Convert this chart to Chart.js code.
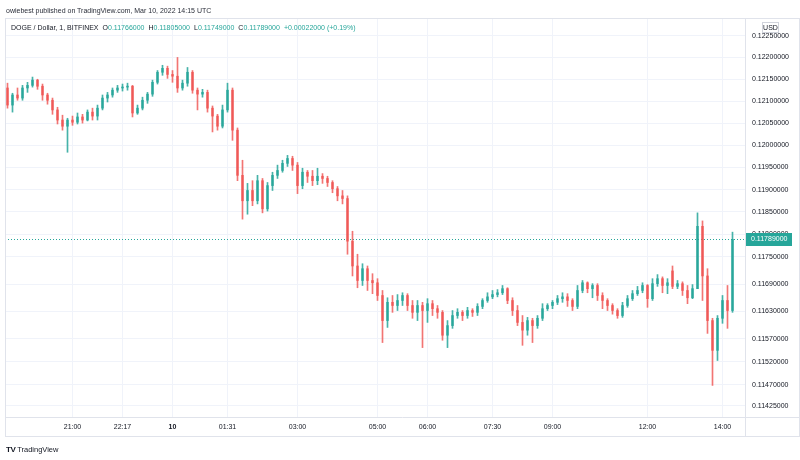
<!DOCTYPE html>
<html>
<head>
<meta charset="utf-8">
<script src="https://cdn.jsdelivr.net/npm/chart.js@4.4.1/dist/chart.umd.min.js"></script>
<style>
html, body { margin: 0; padding: 0; background: #fff; }
#wrap { position: relative; width: 800px; height: 460px; overflow: hidden; }
#c { position: absolute; left: 0; top: 0; }
.t { position: absolute; white-space: nowrap; font-family: "Liberation Sans", Arial, sans-serif; font-size: 7px; line-height: 9px; color: #131722; }
.g { color: #26a69a; }
.it { margin-left: 4px; }
</style>
</head>
<body>
<div id="wrap">
  <canvas id="c" width="800" height="460"></canvas>
  <div class="t" style="left:6px;top:6px;color:#2a2e39;">owiebest published on TradingView.com, Mar 10, 2022 14:15 UTC</div>
  <div class="t" id="legend" style="left:11px;top:23px;"></div>
  <div class="t" style="left:6px;top:445px;font-size:7.5px;"><b style="font-size:8px;letter-spacing:-0.5px;">TV</b> TradingView</div>
</div>
<script>
// candles, 1 bar per ~5px of the original
var opens = [
  0.12130, 0.12091, 0.12114, 0.12107, 0.12130, 0.12136, 0.12148, 0.12134, 0.12114, 0.12102,
  0.12080, 0.12057, 0.12043, 0.12057, 0.12052, 0.12064, 0.12057, 0.12075, 0.12066, 0.12084,
  0.12107, 0.12114, 0.12125, 0.12130, 0.12132, 0.12134, 0.12073, 0.12084, 0.12102, 0.12116,
  0.12143, 0.12166, 0.12175, 0.12161, 0.12157, 0.12130, 0.12141, 0.12166, 0.12125, 0.12116,
  0.12120, 0.12084, 0.12066, 0.12043, 0.12080, 0.12125, 0.12034, 0.11932, 0.11875, 0.11898,
  0.11875, 0.11920, 0.11857, 0.11909, 0.11932, 0.11943, 0.11959, 0.11970, 0.11955, 0.11909,
  0.11939, 0.11930, 0.11920, 0.11930, 0.11925, 0.11916, 0.11902, 0.11886, 0.11880, 0.11785,
  0.11730, 0.11698, 0.11724, 0.11698, 0.11693, 0.11665, 0.11610, 0.11650, 0.11643, 0.11654,
  0.11665, 0.11643, 0.11628, 0.11643, 0.11632, 0.11647, 0.11636, 0.11628, 0.11578, 0.11599,
  0.11621, 0.11628, 0.11621, 0.11632, 0.11628, 0.11641, 0.11654, 0.11662, 0.11667, 0.11671,
  0.11680, 0.11654, 0.11632, 0.11606, 0.11589, 0.11610, 0.11599, 0.11615, 0.11636, 0.11643,
  0.11650, 0.11658, 0.11662, 0.11654, 0.11641, 0.11676, 0.11693, 0.11680, 0.11687, 0.11665,
  0.11654, 0.11643, 0.11632, 0.11621, 0.11643, 0.11658, 0.11669, 0.11676, 0.11687, 0.11658,
  0.11691, 0.11702, 0.11687, 0.11719, 0.11685, 0.11691, 0.11676, 0.11660, 0.11680, 0.11818,
  0.11708, 0.11610, 0.11545, 0.11615, 0.11654, 0.11632
];
var highs = [
  0.12141, 0.12118, 0.12130, 0.12136, 0.12143, 0.12155, 0.12150, 0.12139, 0.12118, 0.12107,
  0.12086, 0.12068, 0.12061, 0.12066, 0.12073, 0.12070, 0.12080, 0.12084, 0.12091, 0.12114,
  0.12120, 0.12130, 0.12136, 0.12139, 0.12141, 0.12136, 0.12091, 0.12109, 0.12120, 0.12148,
  0.12170, 0.12182, 0.12180, 0.12170, 0.12200, 0.12148, 0.12177, 0.12170, 0.12130, 0.12127,
  0.12125, 0.12089, 0.12070, 0.12091, 0.12141, 0.12130, 0.12039, 0.11966, 0.11914, 0.11920,
  0.11932, 0.11925, 0.11916, 0.11939, 0.11955, 0.11966, 0.11977, 0.11975, 0.11961, 0.11948,
  0.11943, 0.11943, 0.11948, 0.11936, 0.11930, 0.11920, 0.11907, 0.11898, 0.11886, 0.11807,
  0.11756, 0.11735, 0.11730, 0.11713, 0.11702, 0.11676, 0.11660, 0.11665, 0.11667, 0.11671,
  0.11669, 0.11654, 0.11654, 0.11650, 0.11658, 0.11654, 0.11643, 0.11632, 0.11610, 0.11632,
  0.11636, 0.11632, 0.11639, 0.11636, 0.11647, 0.11658, 0.11671, 0.11676, 0.11678, 0.11687,
  0.11682, 0.11660, 0.11643, 0.11621, 0.11617, 0.11615, 0.11621, 0.11647, 0.11647, 0.11654,
  0.11665, 0.11671, 0.11669, 0.11658, 0.11687, 0.11698, 0.11695, 0.11691, 0.11691, 0.11671,
  0.11658, 0.11647, 0.11636, 0.11650, 0.11665, 0.11676, 0.11685, 0.11693, 0.11689, 0.11702,
  0.11711, 0.11706, 0.11702, 0.11730, 0.11698, 0.11695, 0.11687, 0.11689, 0.11848, 0.11830,
  0.11724, 0.11615, 0.11621, 0.11665, 0.11687, 0.11805
];
var lows = [
  0.12084, 0.12075, 0.12102, 0.12102, 0.12120, 0.12132, 0.12127, 0.12102, 0.12093, 0.12070,
  0.12048, 0.12034, 0.11984, 0.12045, 0.12048, 0.12050, 0.12055, 0.12057, 0.12057, 0.12080,
  0.12098, 0.12109, 0.12120, 0.12123, 0.12125, 0.12064, 0.12070, 0.12080, 0.12095, 0.12111,
  0.12139, 0.12159, 0.12152, 0.12143, 0.12120, 0.12125, 0.12134, 0.12118, 0.12080, 0.12109,
  0.12075, 0.12030, 0.12034, 0.12039, 0.12075, 0.12011, 0.11920, 0.11834, 0.11845, 0.11864,
  0.11868, 0.11848, 0.11852, 0.11898, 0.11925, 0.11939, 0.11952, 0.11943, 0.11891, 0.11902,
  0.11916, 0.11909, 0.11911, 0.11914, 0.11907, 0.11893, 0.11875, 0.11868, 0.11756, 0.11708,
  0.11682, 0.11687, 0.11676, 0.11669, 0.11654, 0.11562, 0.11595, 0.11628, 0.11632, 0.11643,
  0.11632, 0.11615, 0.11610, 0.11551, 0.11606, 0.11621, 0.11615, 0.11567, 0.11551, 0.11593,
  0.11615, 0.11610, 0.11615, 0.11619, 0.11621, 0.11636, 0.11650, 0.11658, 0.11662, 0.11667,
  0.11647, 0.11621, 0.11599, 0.11556, 0.11578, 0.11562, 0.11593, 0.11610, 0.11632, 0.11636,
  0.11645, 0.11650, 0.11641, 0.11632, 0.11636, 0.11671, 0.11671, 0.11660, 0.11654, 0.11636,
  0.11632, 0.11624, 0.11615, 0.11617, 0.11639, 0.11654, 0.11665, 0.11671, 0.11639, 0.11654,
  0.11685, 0.11671, 0.11669, 0.11680, 0.11680, 0.11665, 0.11647, 0.11658, 0.11680, 0.11654,
  0.11582, 0.11469, 0.11523, 0.11604, 0.11593, 0.11628
];
var closes = [
  0.12091, 0.12114, 0.12107, 0.12130, 0.12136, 0.12148, 0.12134, 0.12114, 0.12102, 0.12080,
  0.12057, 0.12043, 0.12057, 0.12052, 0.12064, 0.12057, 0.12075, 0.12066, 0.12084, 0.12107,
  0.12114, 0.12125, 0.12130, 0.12132, 0.12134, 0.12073, 0.12084, 0.12102, 0.12116, 0.12143,
  0.12166, 0.12175, 0.12161, 0.12157, 0.12130, 0.12141, 0.12166, 0.12125, 0.12116, 0.12120,
  0.12084, 0.12066, 0.12043, 0.12080, 0.12125, 0.12034, 0.11932, 0.11875, 0.11898, 0.11875,
  0.11920, 0.11857, 0.11909, 0.11932, 0.11943, 0.11959, 0.11970, 0.11955, 0.11909, 0.11939,
  0.11930, 0.11920, 0.11930, 0.11925, 0.11916, 0.11902, 0.11886, 0.11880, 0.11785, 0.11730,
  0.11698, 0.11724, 0.11698, 0.11693, 0.11665, 0.11610, 0.11650, 0.11643, 0.11654, 0.11665,
  0.11643, 0.11628, 0.11643, 0.11632, 0.11647, 0.11636, 0.11628, 0.11578, 0.11599, 0.11621,
  0.11628, 0.11621, 0.11632, 0.11628, 0.11641, 0.11654, 0.11662, 0.11667, 0.11671, 0.11680,
  0.11654, 0.11632, 0.11606, 0.11589, 0.11610, 0.11599, 0.11615, 0.11636, 0.11643, 0.11650,
  0.11658, 0.11662, 0.11654, 0.11641, 0.11676, 0.11693, 0.11680, 0.11687, 0.11665, 0.11654,
  0.11643, 0.11632, 0.11621, 0.11643, 0.11658, 0.11669, 0.11676, 0.11687, 0.11658, 0.11691,
  0.11702, 0.11687, 0.11693, 0.11685, 0.11691, 0.11676, 0.11660, 0.11680, 0.11818, 0.11708,
  0.11610, 0.11545, 0.11615, 0.11654, 0.11632, 0.11789
];

// time axis: label text and the bar it sits under
var timeLabels = ['21:00', '22:17', '10', '01:31', '03:00', '05:00', '06:00', '07:30', '09:00', '12:00', '14:00'];
var timeLabelBars = [13, 23, 33, 44, 58, 74, 84, 97, 109, 128, 143];
var emptyBarsRight = 2;

// price axis
var priceTicks = [0.1225, 0.1220, 0.1215, 0.1210, 0.1205, 0.1200, 0.1195, 0.1190, 0.1185, 0.1180,
                  0.1175, 0.1169, 0.1163, 0.1157, 0.1152, 0.1147, 0.11425];
var priceMin = 0.11401, priceMax = 0.12291;

// header legend (last bar)
var legendKeys = ['O', 'H', 'L', 'C'];
var legendValues = [0.11766, 0.11805, 0.11749, 0.11789];
var lastChange = 0.00022, lastChangePct = 0.19;

var up = '#26a69a', down = '#ef5350';
var upBar = 'rgba(38,166,154,0.85)', downBar = 'rgba(239,83,80,0.8)';
var gridColor = '#f0f3fa', txt = '#131722';
var family = '"Liberation Sans", Arial, sans-serif';
var lastPrice = closes[closes.length - 1];

var leg = 'DOGE / Dollar, 1, BITFINEX';
legendKeys.forEach(function (k, i) {
  leg += '<span class="it">' + k + '<span class="g">' + legendValues[i].toFixed(8) + '</span></span>';
});
leg += '<span class="it g">+' + lastChange.toFixed(8) + ' (+' + lastChangePct.toFixed(2) + '%)</span>';
document.getElementById('legend').innerHTML = leg;

var labels = [];
for (var i = 0; i < closes.length + emptyBarsRight; i++) {
  var k = timeLabelBars.indexOf(i);
  labels.push(k >= 0 ? timeLabels[k] : '');
}
var colors = closes.map(function (c, i) { return c >= opens[i] ? upBar : downBar; });

var overlay = {
  id: 'overlay',
  beforeDatasetsDraw: function (chart) {
    var ctx = chart.ctx, a = chart.chartArea;
    var py = Math.round(chart.scales.y.getPixelForValue(lastPrice)) + 0.5;
    ctx.save();
    ctx.strokeStyle = up;
    ctx.lineWidth = 1;
    ctx.setLineDash([1, 2]);
    ctx.beginPath();
    ctx.moveTo(a.left, py);
    ctx.lineTo(a.right, py);
    ctx.stroke();
    ctx.restore();
  },
  afterDraw: function (chart) {
    var ctx = chart.ctx, a = chart.chartArea;
    var py = Math.round(chart.scales.y.getPixelForValue(lastPrice));
    ctx.save();
    // pane frame
    ctx.strokeStyle = '#e0e3eb';
    ctx.lineWidth = 1;
    ctx.strokeRect(a.left + 0.5, a.top + 0.5, 799 - a.left, a.bottom + 19 - a.top);
    ctx.beginPath();
    ctx.moveTo(a.right + 0.5, a.top);
    ctx.lineTo(a.right + 0.5, a.bottom + 20);
    ctx.moveTo(a.left, a.bottom + 0.5);
    ctx.lineTo(800, a.bottom + 0.5);
    ctx.stroke();
    // last price tag
    ctx.fillStyle = up;
    ctx.fillRect(a.right + 1, py - 6, 46, 13);
    ctx.fillStyle = '#fff';
    ctx.font = '7px ' + family;
    ctx.textBaseline = 'middle';
    ctx.textAlign = 'left';
    ctx.fillText(lastPrice.toFixed(8), a.right + 6, py + 0.5);
    // currency box
    ctx.fillStyle = '#fff';
    ctx.fillRect(762, 23, 16, 9);
    ctx.strokeStyle = '#d1d4dc';
    ctx.strokeRect(762.5, 22.5, 16, 10);
    ctx.fillStyle = txt;
    ctx.textAlign = 'center';
    ctx.fillText('USD', 770.5, 28);
    ctx.restore();
  }
};

new Chart(document.getElementById('c'), {
  type: 'bar',
  data: {
    labels: labels,
    datasets: [
      {
        data: opens.map(function (o, i) { return [Math.min(o, closes[i]), Math.max(o, closes[i])]; }),
        backgroundColor: colors,
        barThickness: 2,
        minBarLength: 1,
        grouped: false
      },
      {
        data: lows.map(function (l, i) { return [l, highs[i]]; }),
        backgroundColor: colors,
        barThickness: 1,
        grouped: false
      }
    ]
  },
  plugins: [overlay],
  options: {
    responsive: false,
    animation: false,
    events: [],
    layout: { padding: { left: 5, top: 18, right: 0, bottom: 23 } },
    plugins: { legend: { display: false }, tooltip: { enabled: false } },
    scales: {
      x: {
        offset: true,
        border: { display: false },
        grid: { offset: false, color: gridColor, drawTicks: false },
        afterBuildTicks: function (s) {
          s.ticks = timeLabelBars.map(function (v) { return { value: v }; });
        },
        afterFit: function (s) { s.height = 20; },
        ticks: {
          autoSkip: false,
          maxRotation: 0,
          padding: 6,
          color: txt,
          font: function (c) {
            return { family: family, size: 7, weight: (c.tick && c.tick.label === '10') ? 'bold' : 'normal' };
          }
        }
      },
      y: {
        type: 'logarithmic',
        position: 'right',
        min: priceMin,
        max: priceMax,
        border: { display: false },
        grid: { color: gridColor, drawTicks: false },
        afterBuildTicks: function (s) {
          s.ticks = priceTicks.map(function (v) { return { value: v }; });
        },
        afterFit: function (s) { s.width = 55; },
        ticks: {
          padding: 7,
          color: txt,
          font: { family: family, size: 7 },
          callback: function (v) { return Number(v).toFixed(8); }
        }
      }
    }
  }
});
</script>
</body>
</html>
